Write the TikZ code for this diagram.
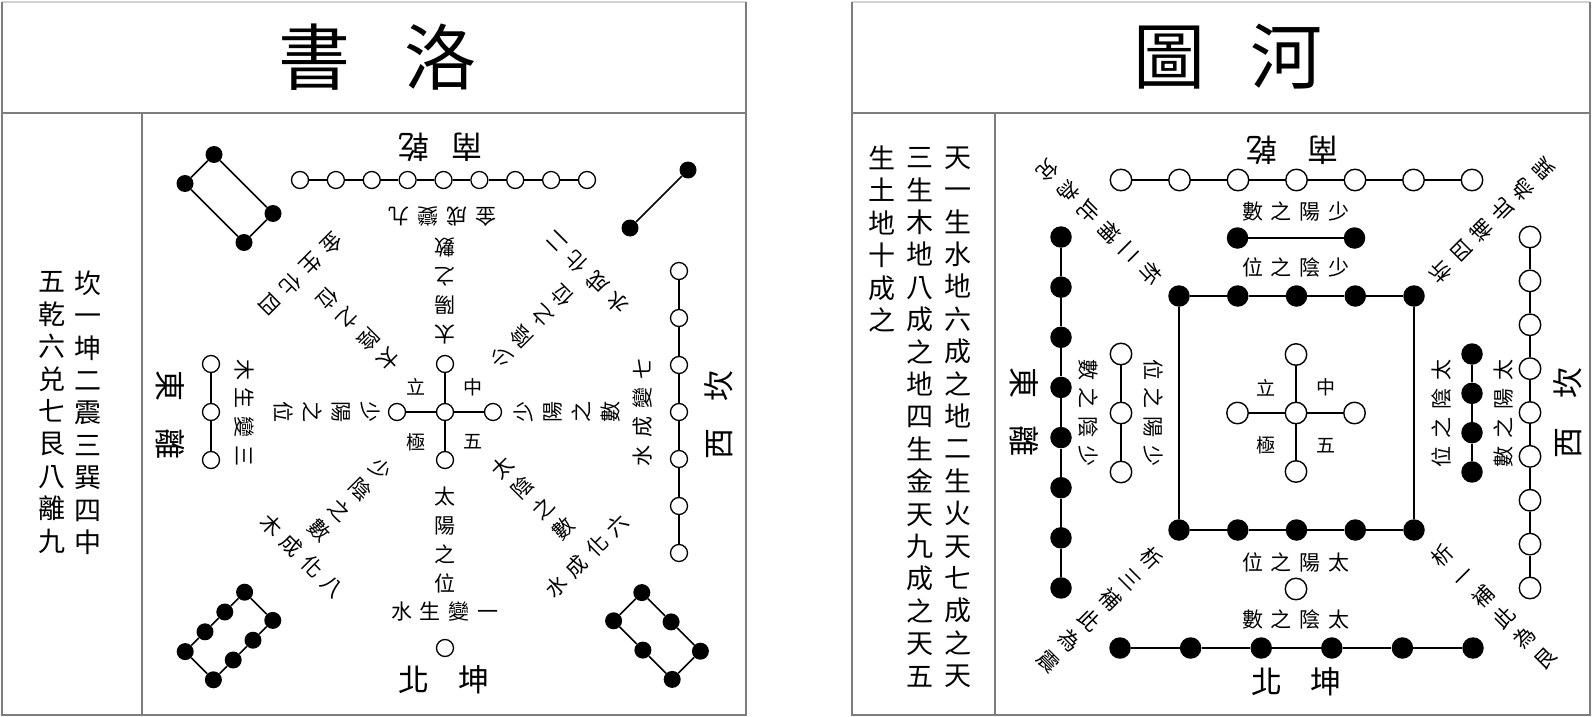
\documentclass[tikz,border=0pt]{standalone}
\usepackage{fontspec}
\newfontfamily\cjk{Noto Sans CJK TC}
\newcommand\gp{\kern8pt}
\definecolor{frameg}{RGB}{125,125,125}
\definecolor{topg}{RGB}{210,210,210}
\begin{document}
\begin{tikzpicture}[x=1pt,y=-1pt,
  frm/.style={draw=frameg, line width=1.4pt},
  topl/.style={draw=topg, line width=1.2pt},
  ln/.style={line width=1.6pt},
  wc/.style={circle, draw, fill=white, line width=1.3pt, minimum size=17pt, inner sep=0pt},
  bc/.style={circle, fill=black, minimum size=17pt, inner sep=0pt},
  WC/.style={circle, draw, fill=white, line width=1.4pt, minimum size=21.5pt, inner sep=0pt},
  BC/.style={circle, fill=black, minimum size=21.5pt, inner sep=0pt},
  sm/.style={font=\cjk\fontsize{21}{29}\selectfont, inner sep=0pt, align=center},
  tiny/.style={font=\cjk\fontsize{19}{19}\selectfont, inner sep=0pt},
  big/.style={font=\cjk\fontsize{31}{31}\selectfont, inner sep=0pt},
  side/.style={font=\cjk\fontsize{27}{32.4}\selectfont, inner sep=0pt, align=center},
  ttl/.style={font=\cjk\fontsize{72}{72}\selectfont, inner sep=0pt}]
\useasboundingbox (0,0) rectangle (1596,717);
% ---------- frames ----------
\draw[topl] (2,2) -- (746,2);
\draw[topl] (852,2) -- (1590,2);
\draw[frm] (2,2) -- (2,715) -- (746,715) -- (746,2);
\draw[frm] (852,2) -- (852,715) -- (1590,715) -- (1590,2);
\draw[frm] (2,113) -- (746,113);
\draw[frm] (852,113) -- (1590,113);
\draw[frm] (142,113) -- (142,715);
\draw[frm] (995,113) -- (995,715);
% ---------- titles ----------
\node[ttl] (tl) at (377,57) {書\kern54pt{}洛};
\node[ttl] (tr) at (1228,57) {圖\kern46pt{}河};
% ---------- side texts ----------
\node[side] (sl1) at (88,412.6) {坎\\一\\坤\\二\\震\\三\\巽\\四\\中};
\node[side] (sl2) at (52,412.6) {五\\乾\\六\\兑\\七\\艮\\八\\離\\九};
\node[side] (sr1) at (958,417.2) {天\\一\\生\\水\\地\\六\\成\\之\\地\\二\\生\\火\\天\\七\\成\\之\\天};
\node[side] (sr2) at (920,417.2) {三\\生\\木\\地\\八\\成\\之\\地\\四\\生\\金\\天\\九\\成\\之\\天\\五};
\node[side] (sr3) at (882,239) {生\\土\\地\\十\\成\\之};
% =============== LEFT PANEL (Luoshu) ===============
\foreach \i in {0,...,8} \node[wc] (lt\i) at ({300+35.875*\i},180) {};
\foreach \i in {1,...,8} {\pgfmathtruncatemacro\j{\i-1}\draw[ln] (lt\j) -- (lt\i);}
\foreach \i in {0,...,6} \node[wc] (lr\i) at (679,{271+47*\i}) {};
\foreach \i in {1,...,6} {\pgfmathtruncatemacro\j{\i-1}\draw[ln] (lr\j) -- (lr\i);}
\foreach \i in {0,...,2} \node[wc] (ll\i) at (211,{364+48*\i}) {};
\draw[ln] (ll0) -- (ll1); \draw[ln] (ll1) -- (ll2);
\node[wc] (lb) at (445,648) {};
\node[wc] (lc) at (445,412) {};
\node[wc] (lcu) at (445,364) {};
\node[wc] (lcd) at (445,460) {};
\node[wc] (lcl) at (397,412) {};
\node[wc] (lcr) at (493,412) {};
\foreach \n in {lcu,lcd,lcl,lcr} \draw[ln] (lc) -- (\n);
\node[bc] (ua1) at (214,154.5) {};
\node[bc] (ua2) at (273,213.5) {};
\node[bc] (ua3) at (244,242.5) {};
\node[bc] (ua4) at (185,183.5) {};
\draw[ln] (ua1) -- (ua2); \draw[ln] (ua2) -- (ua3); \draw[ln] (ua3) -- (ua4); \draw[ln] (ua4) -- (ua1);
\node[bc] (ub1) at (630,228) {};
\node[bc] (ub2) at (688,170) {};
\draw[ln] (ub1) -- (ub2);
\foreach \i/\t in {1/-1.5,2/-0.5,3/0.5,4/1.5} {
  \node[bc] (la\i) at ({214.9-19.8*\t},{621.9+19.8*\t}) {};
  \node[bc] (lb\i) at ({243.1-19.8*\t},{650.1+19.8*\t}) {};}
\foreach \i in {2,3,4} {\pgfmathtruncatemacro\j{\i-1}\draw[ln] (la\j) -- (la\i); \draw[ln] (lb\j) -- (lb\i);}
\draw[ln] (la1) -- (lb1); \draw[ln] (la4) -- (lb4);
\foreach \i/\t in {1/-1,2/0,3/1} {
  \node[bc] (ra\i) at ({671.1+29.3*\t},{621.9+29.3*\t}) {};
  \node[bc] (rb\i) at ({642.9+29.3*\t},{650.1+29.3*\t}) {};}
\foreach \i in {2,3} {\pgfmathtruncatemacro\j{\i-1}\draw[ln] (ra\j) -- (ra\i); \draw[ln] (rb\j) -- (rb\i);}
\draw[ln] (ra1) -- (rb1); \draw[ln] (ra3) -- (rb3);
\node[big, rotate=180] (lq1) at (440,147) {南\kern22pt{}乾};
\node[big] (lq2) at (444,680) {北\kern30pt{}坤};
\node[big, rotate=-90] (lq3) at (170,415) {東\kern27pt{}離};
\node[big, rotate=90] (lq4) at (719,415) {西\kern27pt{}坎};
\node[sm, rotate=180] (lx1) at (442,216) {金\gp{}成\gp{}變\gp{}九};
\node[sm] (lx2) at (445,612) {水\gp{}生\gp{}變\gp{}一};
\node[sm, rotate=-90] (lx3) at (244,413) {木\gp{}生\gp{}變\gp{}三};
\node[sm, rotate=90] (lx4) at (643,412) {水\gp{}成\gp{}變\gp{}七};
\node[sm, rotate=180] (ly1) at (445,291) {太\\陽\\之\\數};
\node[sm] (ly2) at (445,540) {太\\陽\\之\\位};
\node[sm, rotate=-90] (ly3) at (327,412) {少\\陽\\之\\位};
\node[sm, rotate=90] (ly4) at (567,412) {少\\陽\\之\\數};
\node[sm, rotate=225] (ld1) at (358,329) {太\\陰\\之\\位};
\node[sm, rotate=135] (ld2) at (532,326) {少\\陰\\之\\位};
\node[sm, rotate=-45] (ld3) at (350,500) {少\\陰\\之\\數};
\node[sm, rotate=45] (ld4) at (533,498) {太\\陰\\之\\數};
\node[sm, rotate=225] (lo1) at (301,274) {金\gp{}生\gp{}化\gp{}四};
\node[sm, rotate=135] (lo2) at (587,272) {水\gp{}成\gp{}化\gp{}二};
\node[sm, rotate=-45] (lo3) at (302,556) {木\gp{}成\gp{}化\gp{}八};
\node[sm, rotate=45] (lo4) at (587,556) {水\gp{}成\gp{}化\gp{}六};
\node[tiny] (lk1) at (416,387) {立};
\node[tiny] (lk2) at (473,387) {中};
\node[tiny] (lk3) at (416,442) {極};
\node[tiny] (lk4) at (473,442) {五};
% =============== RIGHT PANEL (Hetu) ===============
\foreach \i in {0,...,6} \node[WC] (rt\i) at ({1121+58.5*\i},180) {};
\foreach \i in {1,...,6} {\pgfmathtruncatemacro\j{\i-1}\draw[ln] (rt\j) -- (rt\i);}
\node[BC] (rs1) at (1237.5,238) {};
\node[BC] (rs2) at (1354.5,238) {};
\draw[ln] (rs1) -- (rs2);
\foreach \i in {0,...,4} {
  \node[BC] (qt\i) at ({1179+58.75*\i},296) {};
  \node[BC] (qb\i) at ({1179+58.75*\i},530) {};}
\foreach \i in {1,...,4} {\pgfmathtruncatemacro\j{\i-1}\draw[ln] (qt\j) -- (qt\i); \draw[ln] (qb\j) -- (qb\i);}
\draw[ln] (qt0) -- (qb0); \draw[ln] (qt4) -- (qb4);
\node[WC] (rw1) at (1296,589) {};
\foreach \i in {0,...,5} \node[BC] (rb\i) at ({1120+70.6*\i},648) {};
\foreach \i in {1,...,5} {\pgfmathtruncatemacro\j{\i-1}\draw[ln] (rb\j) -- (rb\i);}
\foreach \i in {0,...,7} \node[BC] (rl\i) at (1061,{237+50.14*\i}) {};
\foreach \i in {1,...,7} {\pgfmathtruncatemacro\j{\i-1}\draw[ln] (rl\j) -- (rl\i);}
\foreach \i in {0,...,2} \node[WC] (ri\i) at (1121,{354+59*\i}) {};
\draw[ln] (ri0) -- (ri1); \draw[ln] (ri1) -- (ri2);
\foreach \i in {0,...,3} \node[BC] (rj\i) at (1472,{354+39.33*\i}) {};
\foreach \i in {1,...,3} {\pgfmathtruncatemacro\j{\i-1}\draw[ln] (rj\j) -- (rj\i);}
\foreach \i in {0,...,8} \node[WC] (rr\i) at (1530,{237+43.875*\i}) {};
\foreach \i in {1,...,8} {\pgfmathtruncatemacro\j{\i-1}\draw[ln] (rr\j) -- (rr\i);}
\node[WC] (rc) at (1296,413) {};
\node[WC] (rcu) at (1296,354.5) {};
\node[WC] (rcd) at (1296,471.5) {};
\node[WC] (rcl) at (1237.5,413) {};
\node[WC] (rcr) at (1354.5,413) {};
\foreach \n in {rcu,rcd,rcl,rcr} \draw[ln] (rc) -- (\n);
\node[big, rotate=180] (rq1) at (1292,150) {南\kern30pt{}乾};
\node[big] (rq2) at (1296,682) {北\kern28pt{}坤};
\node[big, rotate=-90] (rq3) at (1024,412) {東\kern27pt{}離};
\node[big, rotate=90] (rq4) at (1568,413) {西\kern29pt{}坎};
\node[sm] (rx1) at (1296,211) {數\gp{}之\gp{}陽\gp{}少};
\node[sm] (rx2) at (1296,267) {位\gp{}之\gp{}陰\gp{}少};
\node[sm] (rx3) at (1296,562) {位\gp{}之\gp{}陽\gp{}太};
\node[sm] (rx4) at (1296,619) {數\gp{}之\gp{}陰\gp{}太};
\node[sm, rotate=-90] (ry1) at (1088,413) {數\gp{}之\gp{}陰\gp{}少};
\node[sm, rotate=-90] (ry2) at (1154,413) {位\gp{}之\gp{}陽\gp{}少};
\node[sm, rotate=90] (ry3) at (1441,413) {位\gp{}之\gp{}陰\gp{}太};
\node[sm, rotate=90] (ry4) at (1503,413) {數\gp{}之\gp{}陽\gp{}太};
\node[sm, rotate=225] (rd1) at (1099,222) {析\\二\\補\\此\\為\\兌};
\node[sm, rotate=135] (rd2) at (1492,220) {析\\四\\補\\此\\為\\巽};
\node[sm, rotate=-45] (rd3) at (1100,610) {析\\三\\補\\此\\為\\震};
\node[sm, rotate=45] (rd4) at (1494,607) {析\\一\\補\\此\\為\\艮};
\node[tiny] (rk1) at (1266,388) {立};
\node[tiny] (rk2) at (1326,387) {中};
\node[tiny] (rk3) at (1266,445) {極};
\node[tiny] (rk4) at (1326,446) {五};
\end{tikzpicture}
\end{document}
